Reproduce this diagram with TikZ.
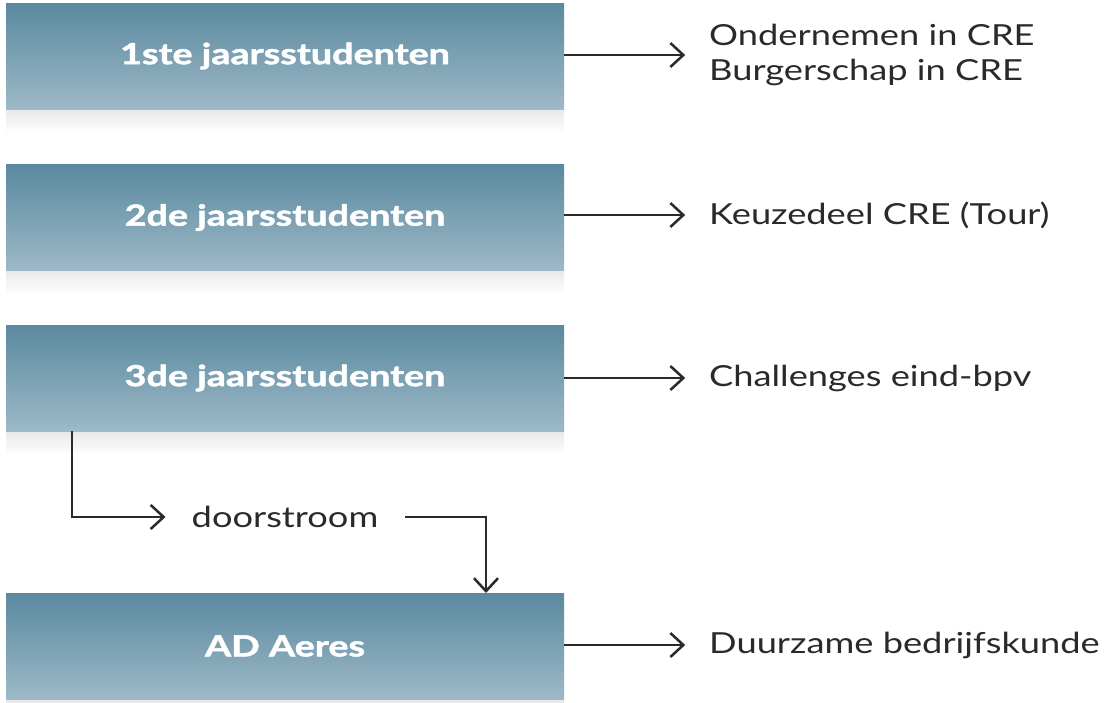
\documentclass[tikz,border=0pt]{standalone}
\usepackage{fontspec}
\setmainfont{Lato}[FakeStretch=1.25]
\newfontfamily\boxfont{Lato}[FakeStretch=1.3,BoldFont={* Bold},BoldFeatures={FakeBold=1.8}]
\usetikzlibrary{arrows.meta,positioning}
\definecolor{boxtop}{HTML}{5A899F}
\definecolor{boxbot}{HTML}{9DB9C7}
\definecolor{txt}{HTML}{2A2A2A}
\begin{document}
\begin{tikzpicture}[x=1pt,y=-1pt,
  stage/.style={minimum width=558pt,minimum height=106pt,inner sep=0pt,
    top color=boxtop,bottom color=boxbot,draw=none,
    text=white,font=\boxfont\fontsize{29}{30}\selectfont\bfseries},
  lab/.style={anchor=west,text=txt,align=left,inner sep=0pt,
    font=\fontsize{29}{35}\selectfont},
  conn/.style={draw=txt,line width=2.5pt,-{Straight Barb[length=13pt,width=24pt,line width=2.5pt]}}]
\useasboundingbox (0,0) rectangle (1114,702);
\fill[white] (0,0) rectangle (1114,702);
% soft shadows
\foreach \t in {109,270,431,700}{
  \shade[top color=black!9,bottom color=white] (6,\t) rectangle (564,\t+24);
}
\node[stage] (s1) at (285,56) {1ste jaarsstudenten};
\node[stage] (s2) at (285,217.5) {2de jaarsstudenten};
\node[stage] (s3) at (285,378) {3de jaarsstudenten};
\node[stage] (s4) at (285,646) {AD Aeres};
\node[lab] (t1) at (709,55) {Ondernemen in CRE\\Burgerschap in CRE};
\node[lab] (t2) at (709,215) {Keuzedeel CRE (Tour)};
\node[lab] (t3) at (709,378) {Challenges eind-bpv};
\node[lab] (t4) at (709,645) {Duurzame bedrijfskunde};
\node[lab,anchor=center] (d) at (285,517) {doorstroom};
\draw[conn] (s1.east |- t1.west) -- ++(121,0);
\draw[conn] (s2.east |- t2.west) -- ++(121,0);
\draw[conn] (s3.east |- t3.west) -- ++(121,0);
\draw[conn] (s4.east |- t4.west) -- ++(121,0);
\coordinate (a0) at (72,431);
\coordinate (b0) at (405,517);
\coordinate (b1) at (486,593);
\draw[conn] (a0) |- ([xshift=-26pt]d.west);
\draw[conn] (b0) -| (b1);
\end{tikzpicture}
\end{document}
